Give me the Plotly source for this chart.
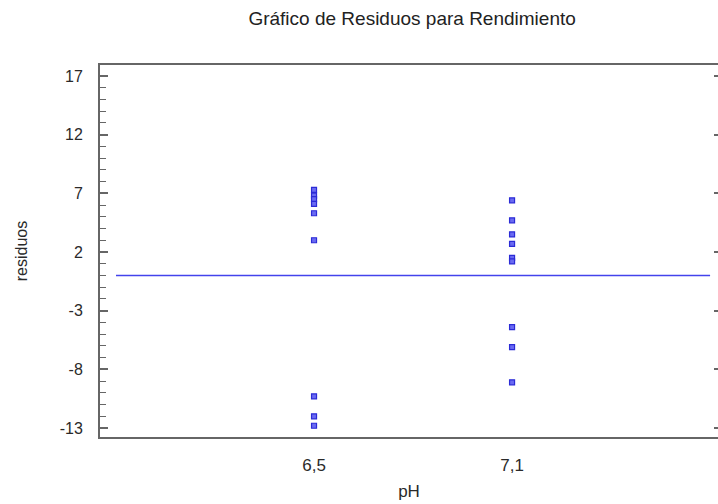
import plotly.graph_objects as go

# Residuals grouped by pH level
ph_levels = [6.5, 7.1]
ph_labels = ["6,5", "7,1"]
residuos_65 = [7.3, 6.8, 6.5, 6.1, 5.3, 3.0, -10.3, -12.0, -12.8]
residuos_71 = [6.4, 4.7, 3.5, 2.7, 1.5, 1.2, -4.4, -6.1, -9.1]

# Y tick values and labels (plain hyphen for negatives)
y_ticks = [-13, -8, -3, 2, 7, 12, 17]
y_ticklabels = ["-13", "-8", "-3", "2", "7", "12", "17"]

# Zero reference line
linea_x = [5.9, 7.7]
linea_y = [0, 0]

x_vals = [ph_levels[0]] * len(residuos_65) + [ph_levels[1]] * len(residuos_71)
y_vals = residuos_65 + residuos_71

azul = "#4343ec"
gris = "#666666"
texto = "#2a2a2a"
fuente = "Liberation Sans, Arial, sans-serif"
y_rango = [-13.76, 17.93]

fig = go.Figure()
fig.add_trace(go.Scatter(
    x=linea_x, y=linea_y, mode="lines",
    line=dict(color=azul, width=1.6),
    yaxis="y2", hoverinfo="skip", showlegend=False,
))
fig.add_trace(go.Scatter(
    x=x_vals, y=y_vals, mode="markers",
    marker=dict(symbol="square", size=5, color="#6a6af2",
                line=dict(color="#2b2bd6", width=1.2)),
    showlegend=False,
))

fig.update_layout(
    width=718, height=504,
    margin=dict(l=100, r=0, t=65, b=67),
    paper_bgcolor="white", plot_bgcolor="white",
    font=dict(family=fuente, color=texto),
    title=dict(text="Gráfico de Residuos para Rendimiento",
               x=0.574, xanchor="center", y=0.964, yanchor="middle",
               font=dict(size=19, color="#222222")),
    xaxis=dict(
        range=[5.8515, 7.724],
        tickvals=ph_levels, ticktext=ph_labels,
        ticks="", showgrid=False, zeroline=False,
        showline=True, linecolor=gris, linewidth=2, mirror=True,
        tickfont=dict(size=17, color=texto),
        ticklabelstandoff=12,
        title=dict(text="pH", font=dict(size=17, color=texto),
                   standoff=11),
    ),
    yaxis=dict(
        range=y_rango,
        tickvals=y_ticks, ticktext=y_ticklabels,
        ticks="inside", ticklen=8, tickwidth=2, tickcolor=gris,
        minor=dict(ticks="inside", ticklen=6, tickwidth=1, tickcolor=gris,
                   tick0=-13, dtick=1, showgrid=False),
        showgrid=False, zeroline=False,
        showline=True, linecolor=gris, linewidth=2,
        tickfont=dict(size=16, color=texto),
        ticklabelstandoff=12,
        title=dict(text="residuos", font=dict(size=16, color=texto), standoff=28),
    ),
    yaxis2=dict(
        overlaying="y", side="right", matches="y",
        range=y_rango, tickvals=y_ticks,
        ticks="inside", ticklen=4, tickwidth=2, tickcolor=gris,
        showticklabels=False, showgrid=False, zeroline=False, showline=False,
    ),
)

fig.write_html("out.html")
